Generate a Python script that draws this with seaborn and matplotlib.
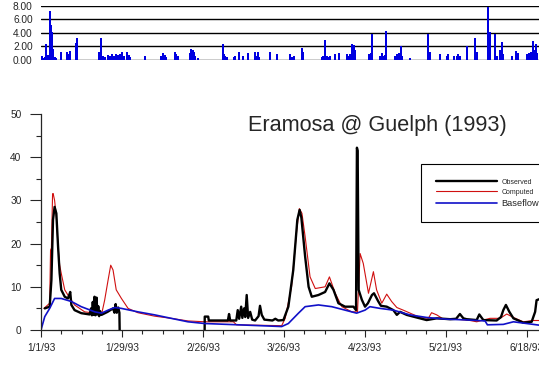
import seaborn as sns
import matplotlib.pyplot as plt
from matplotlib.ticker import MultipleLocator, FormatStrFormatter

# %% Data read off the hydrograph (day 0 = 1/1/93)

tick_days = [0, 28, 56, 84, 112, 140, 168]
tick_labels = ["1/1/93", "1/29/93", "2/26/93", "3/26/93", "4/23/93", "5/21/93", "6/18/93"]

# daily precipitation (top panel)
precip_days = [0.2, 0.8, 1.3, 1.8, 2.3, 2.7, 3.2, 3.6, 3.9, 4.3, 4.8, 5.3,
               7.0, 9.1, 9.5, 9.9, 12.0, 12.5,
               20.0, 20.6, 21.4, 22.2, 23.0, 23.7, 24.4, 25.1, 25.9, 26.6, 27.4, 28.1, 28.8, 29.6, 30.3, 30.8,
               36.0, 41.6, 42.2, 42.8, 43.3, 46.2, 46.8, 47.4, 51.4, 51.9, 52.4, 52.9, 53.4, 54.3,
               62.8, 63.2, 63.7, 64.2, 66.6, 67.2, 68.6, 69.9, 71.6, 73.9, 74.4, 74.9, 75.4,
               79.2, 81.5, 86.1, 86.7, 87.3, 90.1, 90.7, 97.0, 97.6, 98.2, 98.8, 99.3, 100.0, 101.7, 103.1,
               105.8, 106.4, 106.9, 107.5, 108.1, 108.7, 113.4, 114.0, 114.4,
               117.2, 117.8, 118.4, 118.9, 119.3, 122.4, 123.0, 123.6, 124.3, 124.7, 127.5,
               133.9, 134.4, 138.0, 140.3, 140.8, 142.6, 143.7, 144.3, 144.9,
               147.2, 150.0, 150.6, 154.6, 155.2, 156.9, 157.5, 158.7, 159.3, 159.8,
               162.7, 164.1, 165.0, 167.9, 168.6, 169.3, 170.2, 170.6, 171.0, 171.6]
precip_mm = [0.5, 0.3, 0.4, 2.3, 0.7, 0.6, 7.2, 5.2, 4.2, 1.6, 0.4, 0.3,
             1.1, 1.2, 0.8, 1.3, 2.5, 3.2,
             1.1, 3.2, 0.6, 0.4, 0.7, 0.5, 0.8, 0.6, 0.9, 0.7, 0.8, 1.1, 0.6, 1.2, 0.7, 0.4,
             0.5, 0.6, 1.0, 0.7, 0.4, 1.2, 0.8, 0.5, 1.0, 1.6, 1.4, 1.1, 0.6, 0.3,
             2.4, 0.9, 0.6, 0.4, 0.4, 0.5, 1.1, 0.6, 1.0, 1.2, 0.5, 1.2, 0.4,
             1.1, 0.8, 0.9, 0.4, 0.6, 1.7, 1.2, 0.4, 0.6, 2.9, 0.5, 0.4, 0.5, 0.8, 1.0,
             0.9, 0.5, 0.9, 2.4, 2.2, 1.4, 0.8, 1.0, 3.9,
             0.5, 1.0, 0.6, 0.7, 4.3, 0.5, 0.8, 1.0, 2.0, 0.6, 0.3,
             3.9, 1.1, 0.8, 0.6, 0.9, 0.5, 0.6, 0.8, 0.6,
             2.0, 3.2, 1.2, 7.9, 4.1, 3.9, 0.6, 1.5, 2.7, 0.8,
             0.6, 1.3, 1.0, 0.8, 1.0, 1.2, 2.8, 1.5, 2.4, 1.0]

# observed flow (-5 = missing record)
obs_days = [1.3, 3.0, 3.6, 4.15, 4.7, 5.3, 5.9, 6.45, 7.0, 8.2, 9.3, 9.7, 10.1, 10.5, 11.6, 13.9, 16.8,
            17.3, 17.6, 17.9, 18.2, 18.5, 18.8, 19.2, 19.5, 19.8, 20.1, 20.4, 20.9, 23.0, 24.9, 25.4,
            25.8, 26.2, 26.7, 27.1, 27.3,
            56.5, 56.6, 57.8, 58.0, 64.6, 65.0, 65.4, 67.5, 68.0, 68.5, 69.2, 69.6, 70.2, 70.6, 71.1,
            71.6, 72.3, 73.0, 74.0, 75.2, 75.7, 76.3, 77.2, 80.0, 81.0, 82.0, 83.8,
            85.5, 87.2, 88.6, 89.4, 90.0, 91.3, 92.5, 93.6, 95.9, 98.2, 99.7, 101.1, 102.8, 105.1,
            108.0, 108.9, 109.2, 109.45, 109.8, 110.9, 112.0, 113.0, 114.4, 115.1, 116.6, 117.5,
            119.5, 121.8, 123.0, 124.1, 126.4, 129.8, 133.3, 136.8, 141.4, 143.5, 144.8, 146.0,
            147.1, 150.6, 151.5, 152.9, 157.5, 159.0, 159.8, 160.7, 161.9, 163.3, 166.7, 169.6,
            170.8, 171.3, 172.5]
obs_flow = [5.0, 5.4, 11.6, 25.5, 28.5, 27.0, 19.3, 13.1, 9.3, 7.7, 7.3, 8.0, 8.8, 5.8, 4.6, 3.9, 3.6,
            5.0, 3.4, 6.5, 3.5, 7.7, 3.4, 7.5, 3.6, 5.5, 3.2, 4.4, 3.5, 4.2, 5.0, 4.0,
            6.0, 4.0, 5.2, 4.0, -5,
            -5, 3.1, 3.1, 2.2, 2.2, 3.7, 2.2, 2.2, 4.6, 2.6, 5.4, 2.8, 5.0, 3.0, 8.1,
            2.8, 4.2, 2.4, 2.2, 3.2, 5.6, 3.5, 2.4, 2.2, 2.6, 2.2, 2.3,
            5.4, 13.9, 25.5, 27.8, 26.0, 17.0, 10.0, 7.7, 8.1, 8.8, 10.8, 9.3, 6.2, 5.4,
            5.4, 4.6, 42.2, 41.5, 9.3, 7.0, 5.4, 6.2, 8.1, 8.5, 6.6, 5.6,
            5.4, 4.6, 3.5, 4.2, 3.5, 2.9, 2.3, 2.7, 2.5, 2.6, 3.7, 2.7,
            2.5, 2.3, 3.6, 2.3, 2.2, 3.0, 4.6, 5.8, 4.2, 2.7, 1.7, 1.9,
            4.2, 6.9, 7.2]

# computed flow
comp_days = [1.0, 3.0, 3.3, 3.6, 4.0, 4.2, 4.7, 5.3, 5.9, 6.45, 7.0, 8.2, 9.3, 11.6, 15.1, 18.6,
             20.9, 22.0, 23.2, 24.1, 24.9, 26.0, 27.8, 30.1, 33.5, 39.3, 45.0, 50.8, 56.7, 66.5,
             67.6, 83.2, 84.4, 86.6, 88.4, 89.3, 90.2, 91.3, 93.0, 94.8, 98.2, 99.7, 101.7, 104.0,
             107.4, 109.4, 110.3, 111.4, 113.2, 114.9, 116.0, 117.8, 119.5, 121.2, 123.0, 125.2,
             131.0, 133.9, 135.0, 136.8, 139.1, 143.7, 148.3, 150.6, 155.2, 158.7, 161.0, 163.3,
             166.7, 170.2, 172.5]
comp_flow = [5.0, 6.2, 18.5, 19.0, 31.5, 31.6, 30.0, 26.2, 19.3, 15.0, 13.1, 9.3, 8.1, 5.8, 4.2, 3.9,
             3.5, 6.9, 11.6, 15.0, 13.9, 9.3, 7.3, 5.0, 4.0, 3.2, 2.7, 2.1, 1.9, 1.9,
             1.2, 1.0, 2.7, 10.0, 23.1, 28.1, 27.0, 21.6, 12.3, 9.6, 10.0, 12.3, 8.5, 5.4,
             4.2, 4.2, 17.7, 15.4, 8.5, 13.5, 9.3, 6.2, 8.3, 6.6, 5.2, 4.6,
             2.9, 2.7, 4.0, 3.5, 2.5, 2.5, 2.2, 1.9, 2.7, 2.7, 3.7, 2.9,
             1.9, 2.2, 2.2]

# baseflow
base_days = [0, 1.3, 3.0, 4.7, 7.0, 10.5, 13.9, 18.6, 20.9, 23.2, 25.5, 27.8, 33.5, 39.3, 45.0,
             50.8, 56.6, 68.2, 83.2, 85.5, 89.0, 91.3, 95.9, 100.5, 105.1, 109.1, 112.0, 113.7,
             117.2, 121.8, 127.5, 133.3, 140.3, 148.3, 153.5, 154.3, 159.8, 163.3, 167.9, 171.3, 172.5]
base_flow = [0, 3.1, 5.0, 7.3, 7.3, 6.6, 5.4, 4.2, 3.9, 4.6, 5.2, 5.0, 4.2, 3.5, 2.7,
             1.9, 1.5, 1.2, 0.8, 1.5, 3.9, 5.4, 5.8, 5.4, 4.6, 3.9, 4.6, 5.4,
             5.0, 4.6, 3.5, 2.9, 2.5, 2.3, 2.1, 1.2, 1.3, 1.9, 1.5, 1.2, 1.1]

# %% Figure

sns.set_style("ticks")
plt.rcParams['font.family'] = ['Liberation Sans', 'DejaVu Sans']

fig = plt.figure(figsize=(5.39, 3.65), dpi=100, facecolor="white")
x_end = 498 / 2.893  # the picture is cut off on the right

# precipitation panel
ax_p = fig.add_axes([41 / 539, 305 / 365, 498 / 539, 54.3 / 365])
ax_p.bar(precip_days, precip_mm, width=0.7, color="#0000e0", linewidth=0)
ax_p.set_xlim(0, x_end)
ax_p.set_ylim(-0.06, 8.06)
ax_p.set_yticks([0, 2, 4, 6, 8])
ax_p.yaxis.set_major_formatter(FormatStrFormatter("%.2f"))
ax_p.set_xticks([])
ax_p.set_axisbelow(True)
ax_p.yaxis.grid(True, color="black", linewidth=1)
for s in ax_p.spines.values():
    s.set_visible(False)
ax_p.tick_params(axis="y", length=0, pad=6, labelsize=7.3)

# hydrograph panel
ax = fig.add_axes([41 / 539, 35 / 365, 498 / 539, 216 / 365])
sns.lineplot(x=obs_days, y=obs_flow, ax=ax, color="black", linewidth=1.7,
             estimator=None, sort=False, label="Observed", zorder=2.1)
sns.lineplot(x=comp_days, y=comp_flow, ax=ax, color="#d01010", linewidth=0.8,
             estimator=None, sort=False, label="Computed", zorder=2.0)
sns.lineplot(x=base_days, y=base_flow, ax=ax, color="#1010c8", linewidth=1.2,
             estimator=None, sort=False, label="Baseflow", zorder=2.2)

ax.set_xlim(0, x_end)
ax.set_ylim(0, 50)
ax.set_xticks(tick_days, tick_labels)
ax.xaxis.set_minor_locator(MultipleLocator(7))
ax.yaxis.set_major_locator(MultipleLocator(10))
ax.yaxis.set_minor_locator(MultipleLocator(5))
ax.set_xlabel("")
ax.set_ylabel("")
sns.despine(ax=ax)
ax.spines["left"].set_linewidth(0.9)
ax.spines["bottom"].set_linewidth(0.9)
ax.tick_params(axis="y", which="major", length=8, width=0.8, pad=6, labelsize=7.3)
ax.tick_params(axis="y", which="minor", length=3.6, width=0.8)
ax.tick_params(axis="x", which="major", length=5, width=0.8, pad=4.5, labelsize=7.3)
ax.tick_params(axis="x", which="minor", length=3, width=0.8)

leg = ax.legend(loc="upper left", bbox_to_anchor=(421 / 539, 1 - 164 / 365),
                bbox_transform=fig.transFigure, fontsize=5, frameon=True, fancybox=False,
                framealpha=1, edgecolor="black", borderaxespad=0, borderpad=2.1,
                handlelength=8.8, handletextpad=0.7, labelspacing=0.45)
leg.get_frame().set_linewidth(0.8)
leg.get_texts()[2].set_fontsize(6.7)

fig.text(248 / 539, 1 - 131 / 365, "Eramosa @ Guelph (1993)", fontsize=15.6,
         ha="left", va="baseline")

fig.savefig("out.png", dpi=100)
